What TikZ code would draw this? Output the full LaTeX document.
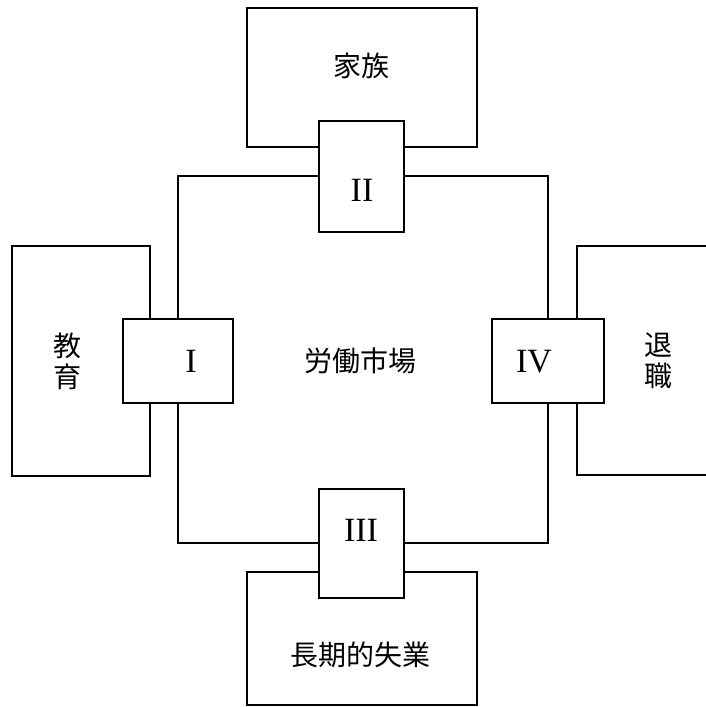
\documentclass[tikz,border=0pt]{standalone}
\usepackage{fontspec}
\setmainfont{Liberation Serif}
\newfontfamily\cjk{Noto Sans CJK JP}
\begin{document}
\begin{tikzpicture}[x=1pt,y=-1pt,line width=1.2pt,
  box/.style={draw,fill=white,inner sep=0pt,outer sep=0pt},
  lbl/.style={font=\cjk\fontsize{28}{31}\selectfont,inner sep=0pt,align=center},
  num/.style={font=\fontsize{34}{36}\selectfont,inner sep=0pt}]
\useasboundingbox (0,0) rectangle (706,707);
\clip (0,0) rectangle (706,707);
\fill[white] (0,0) rectangle (706,707);
% labour market square
\node[box,fill=none,minimum width=370pt,minimum height=367pt] (market) at (363,359.5) {};
% outer boxes
\node[box,minimum width=230pt,minimum height=139pt] (family) at (362,77.5) {};
\node[box,minimum width=138pt,minimum height=230pt] (educ) at (81,361) {};
\node[box,minimum width=163pt,minimum height=229pt] (retire) at (658.5,360.5) {};
\node[box,minimum width=230pt,minimum height=133pt] (unemp) at (362,638.5) {};
% transition boxes
\node[box,minimum width=85pt,minimum height=111pt] (t2) at (361.5,176.5) {};
\node[box,minimum width=110pt,minimum height=84pt] (t1) at (178,361) {};
\node[box,minimum width=112pt,minimum height=84pt] (t4) at (548,361) {};
\node[box,minimum width=85pt,minimum height=109pt] (t3) at (361.5,543.5) {};
% texts
\node[lbl] (lmarket) at (360,361) {労働市場};
\node[lbl] (lfamily) at (361,66) {家族};
\node[lbl] (leduc) at (67,361) {教\\育};
\node[lbl] (lretire) at (658,361) {退\\職};
\node[lbl] (lunemp) at (360,655) {長期的失業};
\node[num] (n1) at (191,361) {I};
\node[num] (n2) at (362,190) {II};
\node[num] (n3) at (361,530) {III};
\node[num] (n4) at (534,362) {IV};
\end{tikzpicture}
\end{document}
